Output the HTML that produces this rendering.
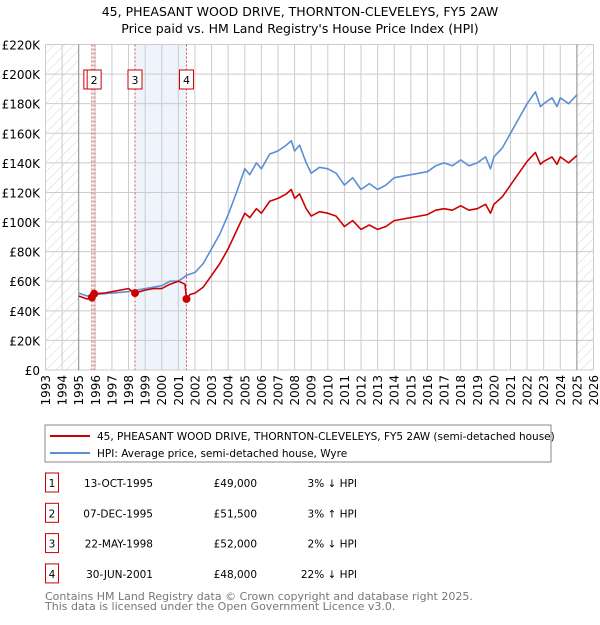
<!DOCTYPE html>
<html><head><meta charset="utf-8"><style>
body{margin:0;background:#fff;font-family:"Liberation Sans","DejaVu Sans",sans-serif;}
svg text{font-family:"DejaVu Sans","Liberation Sans",sans-serif;}
</style></head><body>
<svg id="c" width="600" height="620" xmlns="http://www.w3.org/2000/svg">
<defs><pattern id="hatch" width="7" height="7" patternUnits="userSpaceOnUse" patternTransform="rotate(45)"><line x1="0" y1="0" x2="0" y2="7" stroke="#ccc" stroke-width="0.8"/></pattern></defs>
<text x="300" y="16" text-anchor="middle" font-size="12.5" fill="#000">45, PHEASANT WOOD DRIVE, THORNTON-CLEVELEYS, FY5 2AW</text>
<text x="300" y="33" text-anchor="middle" font-size="12.5" fill="#000">Price paid vs. HM Land Registry's House Price Index (HPI)</text>
<g id="plot"></g>
<rect x="45" y="425" width="506" height="37" fill="#fff" stroke="#888"/>
<line x1="50" y1="436" x2="90" y2="436" stroke="#cc0000" stroke-width="2"/>
<text x="97" y="440" font-size="10.5">45, PHEASANT WOOD DRIVE, THORNTON-CLEVELEYS, FY5 2AW (semi-detached house)</text>
<line x1="50" y1="453" x2="90" y2="453" stroke="#5b8fd4" stroke-width="2"/>
<text x="97" y="457" font-size="10.5">HPI: Average price, semi-detached house, Wyre</text>
<g id="table" font-size="10.5"></g>
<text x="45" y="600" font-size="11" fill="#777">Contains HM Land Registry data © Crown copyright and database right 2025.</text>
<text x="45" y="610" font-size="11" fill="#777">This data is licensed under the Open Government Licence v3.0.</text>
</svg>
<script>
const hpiYears=[1995.0,1995.5,1996,1997,1998,1998.5,1999,2000,2000.5,2001,2001.5,2002,2002.5,2003,2003.5,2004,2004.5,2005,2005.3,2005.7,2006,2006.5,2007,2007.5,2007.8,2008,2008.3,2008.7,2009,2009.5,2010,2010.5,2011,2011.5,2012,2012.5,2013,2013.5,2014,2014.5,2015,2015.5,2016,2016.5,2017,2017.5,2018,2018.5,2019,2019.5,2019.8,2020,2020.5,2021,2021.5,2022,2022.5,2022.8,2023,2023.5,2023.8,2024,2024.5,2025];
const hpiValues=[52,50,51,52,53,54,55,57,60,60,64,66,72,82,92,105,120,136,132,140,136,146,148,152,155,148,152,140,133,137,136,133,125,130,122,126,122,125,130,131,132,133,134,138,140,138,142,138,140,144,136,144,150,160,170,180,188,178,180,184,178,184,180,186];
const propYears=[1995.0,1995.5,1995.79,1995.93,1996.5,1997,1997.5,1998,1998.39,1999,1999.5,2000,2000.5,2001,2001.4,2001.49,2001.7,2002,2002.5,2003,2003.5,2004,2004.5,2005,2005.3,2005.7,2006,2006.5,2007,2007.5,2007.8,2008,2008.3,2008.7,2009,2009.5,2010,2010.5,2011,2011.5,2012,2012.5,2013,2013.5,2014,2014.5,2015,2015.5,2016,2016.5,2017,2017.5,2018,2018.5,2019,2019.5,2019.8,2020,2020.5,2021,2021.5,2022,2022.5,2022.8,2023,2023.5,2023.8,2024,2024.5,2025];
const propValues=[50,48,49,51.5,52,53,54,55,52,54,55,55,58,60,58,48,51,52,56,64,72,82,94,106,103,109,106,114,116,119,122,116,119,109,104,107,106,104,97,101,95,98,95,97,101,102,103,104,105,108,109,108,111,108,109,112,106,112,117,125,133,141,147,139,141,144,139,144,140,145];
const saleYears=[1995.79,1995.93,1998.39,2001.49];
const salePrices=[49000,51500,52000,48000];
const saleDates=["13-OCT-1995","07-DEC-1995","22-MAY-1998","30-JUN-2001"];
const saleDiffs=["3% ↓ HPI","3% ↑ HPI","2% ↓ HPI","22% ↓ HPI"];
const yTicks=[0,20,40,60,80,100,120,140,160,180,200,220];
const yTickLabels=["£0","£20K","£40K","£60K","£80K","£100K","£120K","£140K","£160K","£180K","£200K","£220K"];
const xTicks=[1993,1994,1995,1996,1997,1998,1999,2000,2001,2002,2003,2004,2005,2006,2007,2008,2009,2010,2011,2012,2013,2014,2015,2016,2017,2018,2019,2020,2021,2022,2023,2024,2025,2026];

const NS="http://www.w3.org/2000/svg";
const X0=45.5,X1=593.5,Y0=370,Y1=44.5;
const xs=y=>X0+(y-1993)/33*(X1-X0);
const ys=v=>Y0-v/220*(Y0-Y1);
function mk(tag,attrs,parent){const e=document.createElementNS(NS,tag);for(const k in attrs)e.setAttribute(k,attrs[k]);parent.appendChild(e);return e;}
const plot=document.getElementById('plot');
let h=mk('rect',{x:X0,y:Y1,width:xs(1995)-X0,height:Y0-Y1,fill:'url(#hatch)'},plot);


h=mk('rect',{x:xs(2025.0),y:Y1,width:X1-xs(2025.0),height:Y0-Y1,fill:'url(#hatch)'},plot);


let b=mk('rect',{x:xs(saleYears[0]),y:Y1,width:xs(saleYears[1])-xs(saleYears[0]),height:Y0-Y1,fill:'#eef3fc'},plot);


b=mk('rect',{x:xs(saleYears[2]),y:Y1,width:xs(saleYears[3])-xs(saleYears[2]),height:Y0-Y1,fill:'#eef3fc'},plot);


yTicks.forEach((v,i)=>{
 const l=mk('line',{x1:X0,x2:X1,y1:ys(v),y2:ys(v),stroke:'#ccc'},plot);
 
 
 const t=mk('text',{x:40,y:ys(v)+5,'text-anchor':'end','font-size':'12'},plot);
 t.textContent=yTickLabels[i];
 
 
});
xTicks.forEach(yr=>{
 const l=mk('line',{x1:xs(yr),x2:xs(yr),y1:Y1,y2:Y0,stroke:(yr==1995||yr==2025)?'#888':'#ccc'},plot);
 
 
 const t=mk('text',{x:0,y:0,'text-anchor':'end','font-size':'12',transform:`translate(${xs(yr)+4.5},375) rotate(-90)`},plot);
 t.textContent=yr;
 
 
});
saleYears.forEach((yr,i)=>{
 const l=mk('line',{x1:xs(yr),x2:xs(yr),y1:Y1,y2:Y0,stroke:'#e05050','stroke-dasharray':'2,2','stroke-width':'1'},plot);
 
 
});
saleYears.forEach((yr,i)=>{
 const g=mk('g',{},plot);
 
 
 const bx=xs(yr)-(i==0?8:7);
 mk('rect',{x:bx,y:70,width:14,height:19,fill:'#fff',stroke:'#cc0000'},g);
 const t=mk('text',{x:bx+7,y:84,'text-anchor':'middle','font-size':'11'},g);
 t.textContent=i+1;
});
function path(xa,va,color,name){
 const d=xa.map((x,i)=>(i?'L':'M')+xs(x).toFixed(1)+','+ys(va[i]).toFixed(1)).join('');
 const p=mk('path',{d:d,fill:'none',stroke:color,'stroke-width':'1.6','stroke-linejoin':'round'},plot);
 
 
}
path(hpiYears,hpiValues,'#5b8fd4','hpi-line');
path(propYears,propValues,'#cc0000','property-line');
saleYears.forEach((yr,i)=>{
 const c=mk('circle',{cx:xs(yr),cy:ys(salePrices[i]/1000),r:4,fill:'#cc0000'},plot);
 
 
});
const tb=document.getElementById('table');
saleDates.forEach((d,i)=>{
 const y=483+i*30.3;
 const g=mk('g',{},tb);
 
 
 mk('rect',{x:45.5,y:y-10,width:13,height:19,fill:'#fff',stroke:'#cc0000'},g);
 let t=mk('text',{x:52,y:y+4,'text-anchor':'middle'},g);t.textContent=i+1;
 t=mk('text',{x:153,y:y+4,'text-anchor':'end'},g);t.textContent=d;
 t=mk('text',{x:257,y:y+4,'text-anchor':'end'},g);t.textContent='£'+salePrices[i].toLocaleString('en-GB');
 t=mk('text',{x:357,y:y+4,'text-anchor':'end'},g);t.textContent=saleDiffs[i];
});
</script>
</body></html>
